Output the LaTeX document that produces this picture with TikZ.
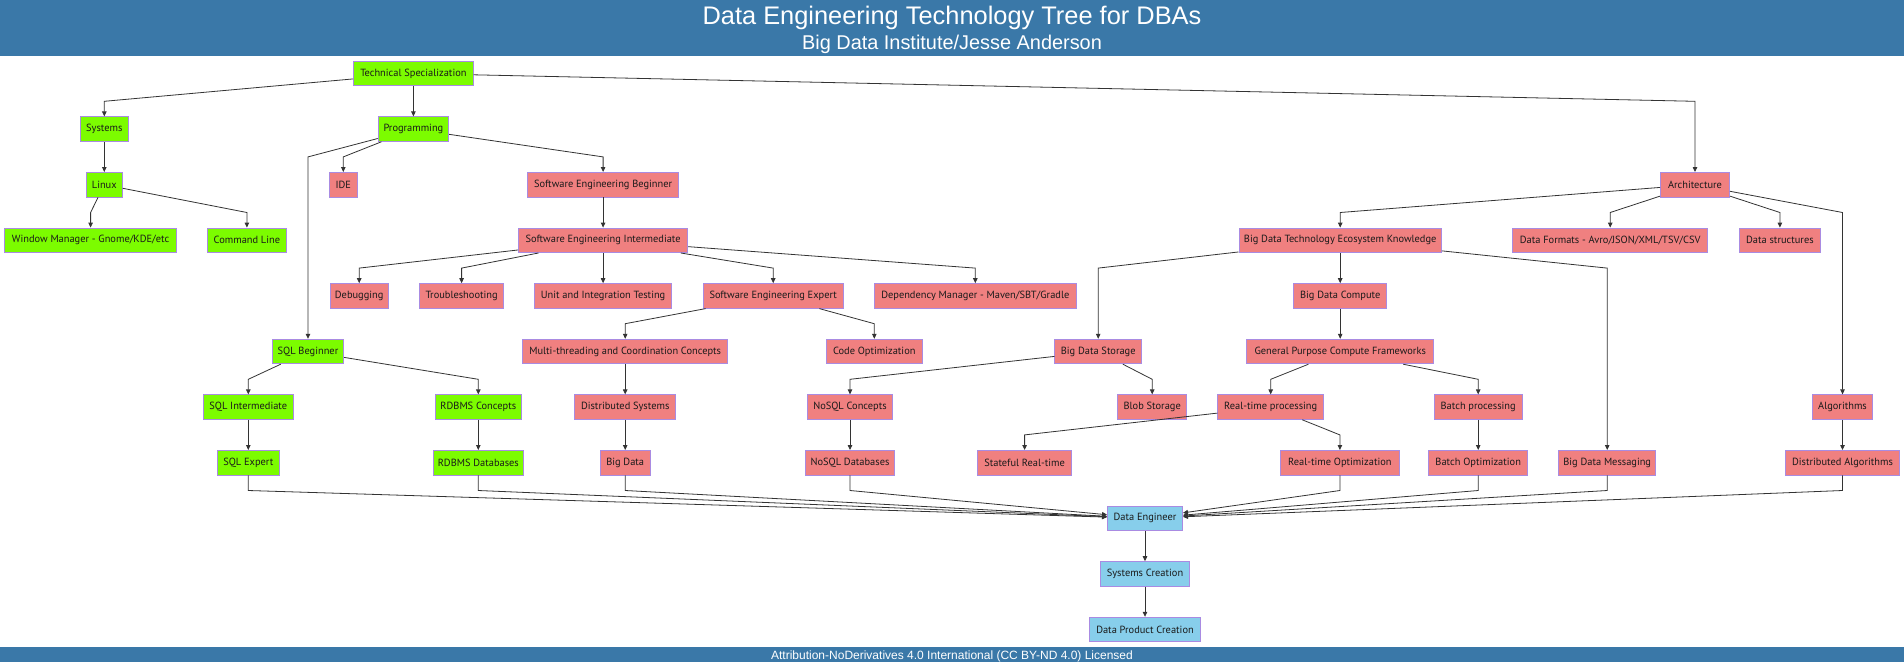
\documentclass[tikz,border=0pt]{standalone}
\usepackage{fontspec}
\setmainfont{PT Sans}
\newfontfamily\hdrfont{Liberation Sans}
\usetikzlibrary{arrows.meta,calc}
\definecolor{hdr}{RGB}{58,120,168}
\definecolor{gn}{HTML}{7CFC00}
\definecolor{pk}{HTML}{F08080}
\definecolor{bl}{HTML}{87CEEB}
\definecolor{bdr}{HTML}{A98BE2}
\definecolor{ln}{HTML}{333333}
\definecolor{txt}{HTML}{1A1A1A}
\tikzset{
 box/.style={draw=bdr, line width=0.9pt, minimum height=24.5pt, inner xsep=0pt, inner ysep=0pt, font=\fontsize{10.4}{12.5}\selectfont, text=txt},
 gbox/.style={box, fill=gn},
 pbox/.style={box, fill=pk},
 bbox/.style={box, fill=bl},
 edge/.style={draw=ln, line width=0.8pt, -{Triangle[length=5pt,width=4.5pt]}},
}
\newcommand\ebend[2]{\path ([yshift=-27.8pt]#1.center) coordinate (tmpA);\draw[edge] (#1) -- (tmpA -| #2) -- (#2);}
\newcommand\edown[2]{\draw[edge] (#1) -- (#2);}
\newcommand\etode[1]{\path ([yshift=-27.8pt]#1.center) coordinate (tmpB);\draw[edge] (#1) -- (tmpB) -- (de);}
\begin{document}
\begin{tikzpicture}[x=1pt,y=-1pt]
\useasboundingbox (0,0) rectangle (1904,662);
\fill[hdr] (0,0) rectangle (1904,56);
\fill[hdr] (0,647) rectangle (1904,662);
\node[text=white, inner sep=0pt, font=\hdrfont\fontsize{25.4}{28}\selectfont, anchor=base] (title) at (952,24) {Data Engineering Technology Tree for DBAs};
\node[text=white, inner sep=0pt, font=\hdrfont\fontsize{19.9}{22}\selectfont, anchor=base] (subtitle) at (952,49) {Big Data Institute/Jesse Anderson};
\node[text=white, inner sep=0pt, font=\hdrfont\fontsize{12}{14}\selectfont, anchor=base] (lic) at (952,659) {Attribution-NoDerivatives 4.0 International (CC BY-ND 4.0) Licensed};
% green
\node[gbox, minimum width=119.6pt] (ts) at (413.4,73.5) {Technical Specialization};
\node[gbox, minimum width=48pt] (sys) at (104.3,129.1) {Systems};
\node[gbox, minimum width=70.5pt] (prog) at (413.4,129.1) {Programming};
\node[gbox, minimum width=36pt] (linux) at (104.3,184.7) {Linux};
\node[gbox, minimum width=171.4pt] (wm) at (90.6,240.3) {Window Manager - Gnome/KDE/etc};
\node[gbox, minimum width=78.6pt] (cl) at (246.9,240.3) {Command Line};
\node[gbox, minimum width=71.4pt] (sqlb) at (308,351.5) {SQL Beginner};
\node[gbox, minimum width=90.6pt] (sqli) at (248.3,407.1) {SQL Intermediate};
\node[gbox, minimum width=86pt] (rdbmsc) at (478.3,407.1) {RDBMS Concepts};
\node[gbox, minimum width=61.6pt] (sqle) at (248.3,462.7) {SQL Expert};
\node[gbox, minimum width=90.6pt] (rdbmsd) at (478.3,462.7) {RDBMS Databases};
% pink
\node[pbox, minimum width=27.7pt] (ide) at (343.3,184.7) {IDE};
\node[pbox, minimum width=150.4pt] (seb) at (603.1,184.7) {Software Engineering Beginner};
\node[pbox, minimum width=169.2pt] (sei) at (603.1,240.3) {Software Engineering Intermediate};
\node[pbox, minimum width=58.5pt] (dbg) at (359.2,295.9) {Debugging};
\node[pbox, minimum width=84pt] (trb) at (461.6,295.9) {Troubleshooting};
\node[pbox, minimum width=137.5pt] (uit) at (603.1,295.9) {Unit and Integration Testing};
\node[pbox, minimum width=140.2pt] (see) at (773.2,295.9) {Software Engineering Expert};
\node[pbox, minimum width=202.7pt] (dep) at (975.3,295.9) {Dependency Manager - Maven/SBT/Gradle};
\node[pbox, minimum width=205pt] (mt) at (625.2,351.5) {Multi-threading and Coordination Concepts};
\node[pbox, minimum width=96pt] (co) at (874.3,351.5) {Code Optimization};
\node[pbox, minimum width=100.9pt] (ds) at (625.2,407.1) {Distributed Systems};
\node[pbox, minimum width=49.6pt] (bd) at (625.2,462.7) {Big Data};
\node[pbox, minimum width=69pt] (arch) at (1695,184.7) {Architecture};
\node[pbox, minimum width=202.5pt] (bdtek) at (1340.2,240.3) {Big Data Technology Ecosystem Knowledge};
\node[pbox, minimum width=195.3pt] (df) at (1610.2,240.3) {Data Formats - Avro/JSON/XML/TSV/CSV};
\node[pbox, minimum width=81.3pt] (dstr) at (1779.9,240.3) {Data structures};
\node[pbox, minimum width=92.9pt] (bdc) at (1340.2,295.9) {Big Data Compute};
\node[pbox, minimum width=86.6pt] (bds) at (1098.2,351.5) {Big Data Storage};
\node[pbox, minimum width=186.6pt] (gpcf) at (1340.2,351.5) {General Purpose Compute Frameworks};
\node[pbox, minimum width=84.8pt] (nosqlc) at (850,407.1) {NoSQL Concepts};
\node[pbox, minimum width=68.8pt] (blob) at (1152.2,407.1) {Blob Storage};
\node[pbox, minimum width=105.8pt] (rtp) at (1270.7,407.1) {Real-time processing};
\node[pbox, minimum width=87.7pt] (bp) at (1478.2,407.1) {Batch processing};
\node[pbox, minimum width=60pt] (alg) at (1842.5,407.1) {Algorithms};
\node[pbox, minimum width=89.3pt] (nosqld) at (850,462.7) {NoSQL Databases};
\node[pbox, minimum width=94.6pt] (srt) at (1024.6,462.7) {Stateful Real-time};
\node[pbox, minimum width=119.2pt] (rto) at (1339.9,462.7) {Real-time Optimization};
\node[pbox, minimum width=99pt] (bo) at (1478.2,462.7) {Batch Optimization};
\node[pbox, minimum width=97pt] (bdm) at (1607.2,462.7) {Big Data Messaging};
\node[pbox, minimum width=113.3pt] (da) at (1842.5,462.7) {Distributed Algorithms};
% blue
\node[bbox, minimum width=75pt] (de) at (1145,518.3) {Data Engineer};
\node[bbox, minimum width=89.3pt] (sc) at (1145,573.9) {Systems Creation};
\node[bbox, minimum width=111.7pt] (dpc) at (1145,629.5) {Data Product Creation};
% edges
\edown{ts}{prog}\ebend{ts}{sys}\ebend{ts}{arch}
\edown{sys}{linux}\ebend{linux}{wm}\ebend{linux}{cl}
\ebend{prog}{ide}\ebend{prog}{seb}\ebend{prog}{sqlb}
\edown{seb}{sei}\ebend{sei}{dbg}\ebend{sei}{trb}\edown{sei}{uit}\ebend{sei}{see}\ebend{sei}{dep}
\ebend{see}{mt}\ebend{see}{co}\edown{mt}{ds}\edown{ds}{bd}
\ebend{sqlb}{sqli}\ebend{sqlb}{rdbmsc}\edown{sqli}{sqle}\edown{rdbmsc}{rdbmsd}
\ebend{arch}{bdtek}\ebend{arch}{df}\ebend{arch}{dstr}\ebend{arch}{alg}
\ebend{bdtek}{bds}\edown{bdtek}{bdc}\ebend{bdtek}{bdm}
\edown{bdc}{gpcf}\ebend{bds}{nosqlc}\ebend{bds}{blob}\edown{nosqlc}{nosqld}
\ebend{gpcf}{rtp}\ebend{gpcf}{bp}\ebend{rtp}{srt}\ebend{rtp}{rto}\edown{bp}{bo}\edown{alg}{da}
\etode{sqle}\etode{rdbmsd}\etode{bd}\etode{nosqld}\etode{rto}\etode{bo}\etode{bdm}\etode{da}
\edown{de}{sc}\edown{sc}{dpc}
\end{tikzpicture}
\end{document}
